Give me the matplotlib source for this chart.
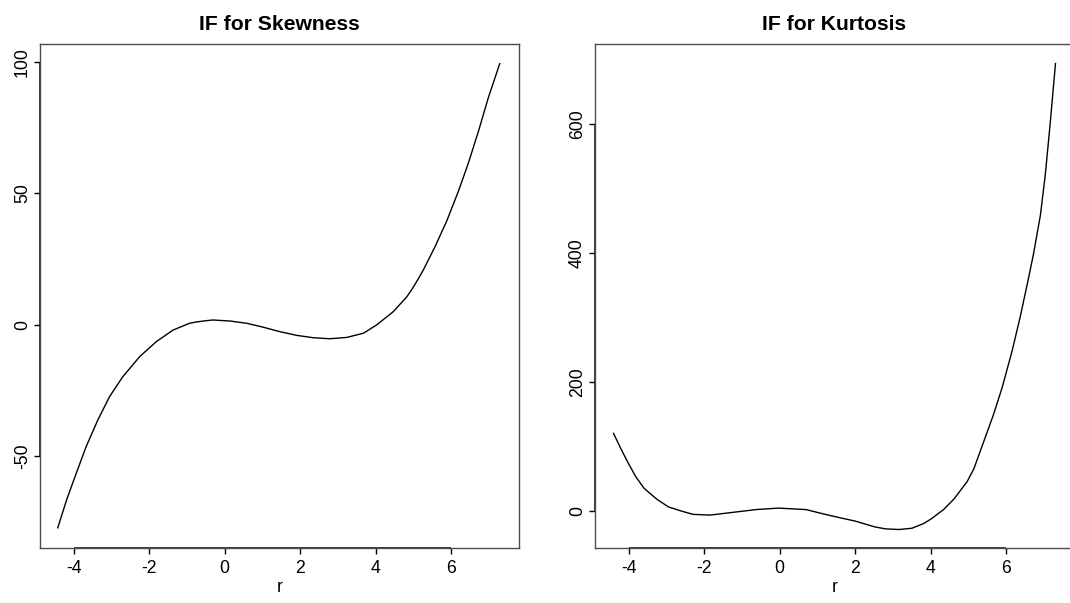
import matplotlib
matplotlib.use("Agg")
import matplotlib.pyplot as plt

plt.rcParams['font.family'] = ['Liberation Sans', 'DejaVu Sans']

# ---- data ----
skew_r = [-4.42, -4.18, -3.93, -3.67, -3.36, -3.05, -2.70, -2.25, -1.81, -1.37,
          -0.93, -0.75, -0.48, -0.31, 0.13, 0.58, 1.02, 1.46, 1.90, 2.34,
          2.78, 3.23, 3.67, 4.02, 4.46, 4.82, 4.95, 5.13, 5.26, 5.57, 5.88,
          6.19, 6.45, 6.72, 6.98, 7.28]
skew_if = [-77.5, -66.6, -56.7, -46.6, -36.4, -27.5, -19.9, -12.2, -6.5, -2.1,
           0.5, 1.0, 1.5, 1.75, 1.37, 0.5, -1.0, -2.7, -4.1, -5.0,
           -5.4, -4.9, -3.3, -0.15, 4.9, 10.6, 13.3, 17.6, 20.9, 29.8, 39.6,
           51.0, 61.6, 73.9, 86.6, 99.5]

kurt_r = [-4.40, -4.21, -4.03, -3.81, -3.59, -3.25, -2.94, -2.60, -2.30, -1.85,
          -1.12, -0.60, -0.03, 0.70, 1.20, 1.61, 2.00, 2.52, 2.80, 3.16,
          3.50, 3.80, 4.00, 4.34, 4.61, 4.96, 5.14, 5.40, 5.66, 5.89,
          6.15, 6.37, 6.59, 6.72, 6.90, 7.03, 7.16, 7.30]
kurt_if = [120.8, 97.6, 76.9, 53.7, 35.7, 18.7, 6.8, 0.5, -4.5, -5.7,
           -0.6, 3.0, 5.1, 2.8, -4.5, -10.0, -15.0, -24.0, -27.0, -28.0,
           -26.0, -19.0, -12.0, 3.0, 19.0, 46.0, 66.0, 108.0, 150.0, 192.0,
           248.0, 302.0, 362.0, 399.0, 458.0, 521.0, 600.5, 693.0]

titles = ["IF for Skewness", "IF for Kurtosis"]
xlabel = "r"
xticks = [-4, -2, 0, 2, 4, 6]
skew_yticks = [-50, 0, 50, 100]
kurt_yticks = [0, 200, 400, 600]

W, H = 1070, 603
fig = plt.figure(figsize=(W / 100, H / 100), dpi=100)

def make_axes(left_px):
    return fig.add_axes([left_px / W, (H - 548) / H, 479 / W, 504 / H])

ax1 = make_axes(40)
ax2 = make_axes(595)

panels = [
    (ax1, skew_r, skew_if, skew_yticks, (-85.2, 107.0), titles[0]),
    (ax2, kurt_r, kurt_if, kurt_yticks, (-56.6, 723.2), titles[1]),
]

for ax, xs, ys, yt, ylim, title in panels:
    ax.plot(xs, ys, color='black', lw=1.0, solid_joinstyle='round')
    ax.set_xlim(-4.89, 7.79)
    ax.set_ylim(*ylim)
    ax.set_xticks(xticks)
    ax.set_yticks(yt)
    ax.set_xticklabels([str(v) for v in xticks])
    ax.set_yticklabels([str(v) for v in yt])
    ax.tick_params(axis='both', direction='out', length=4.3, width=1.0,
                   labelsize=12.7, colors='black')
    ax.tick_params(axis='x', pad=4.6)
    ax.tick_params(axis='y', pad=2.2)
    for lab in ax.get_yticklabels():
        lab.set_rotation(90)
        lab.set_va('center')
    for sp in ax.spines.values():
        sp.set_color('0.3')
        sp.set_linewidth(1.0)
    # R-style axis lines spanning first to last tick
    ax.plot([xticks[0], xticks[-1]], [0, 0], transform=ax.get_xaxis_transform(),
            color='black', lw=1.1, clip_on=False, solid_capstyle='butt')
    ax.plot([0, 0], [yt[0], yt[-1]], transform=ax.get_yaxis_transform(),
            color='black', lw=1.1, clip_on=False, solid_capstyle='butt')
    ax.set_title(title, fontsize=15.2, fontweight='bold', pad=10)
    ax.set_xlabel(xlabel, fontsize=12.7, labelpad=1)

fig.savefig("out.png", dpi=100)
